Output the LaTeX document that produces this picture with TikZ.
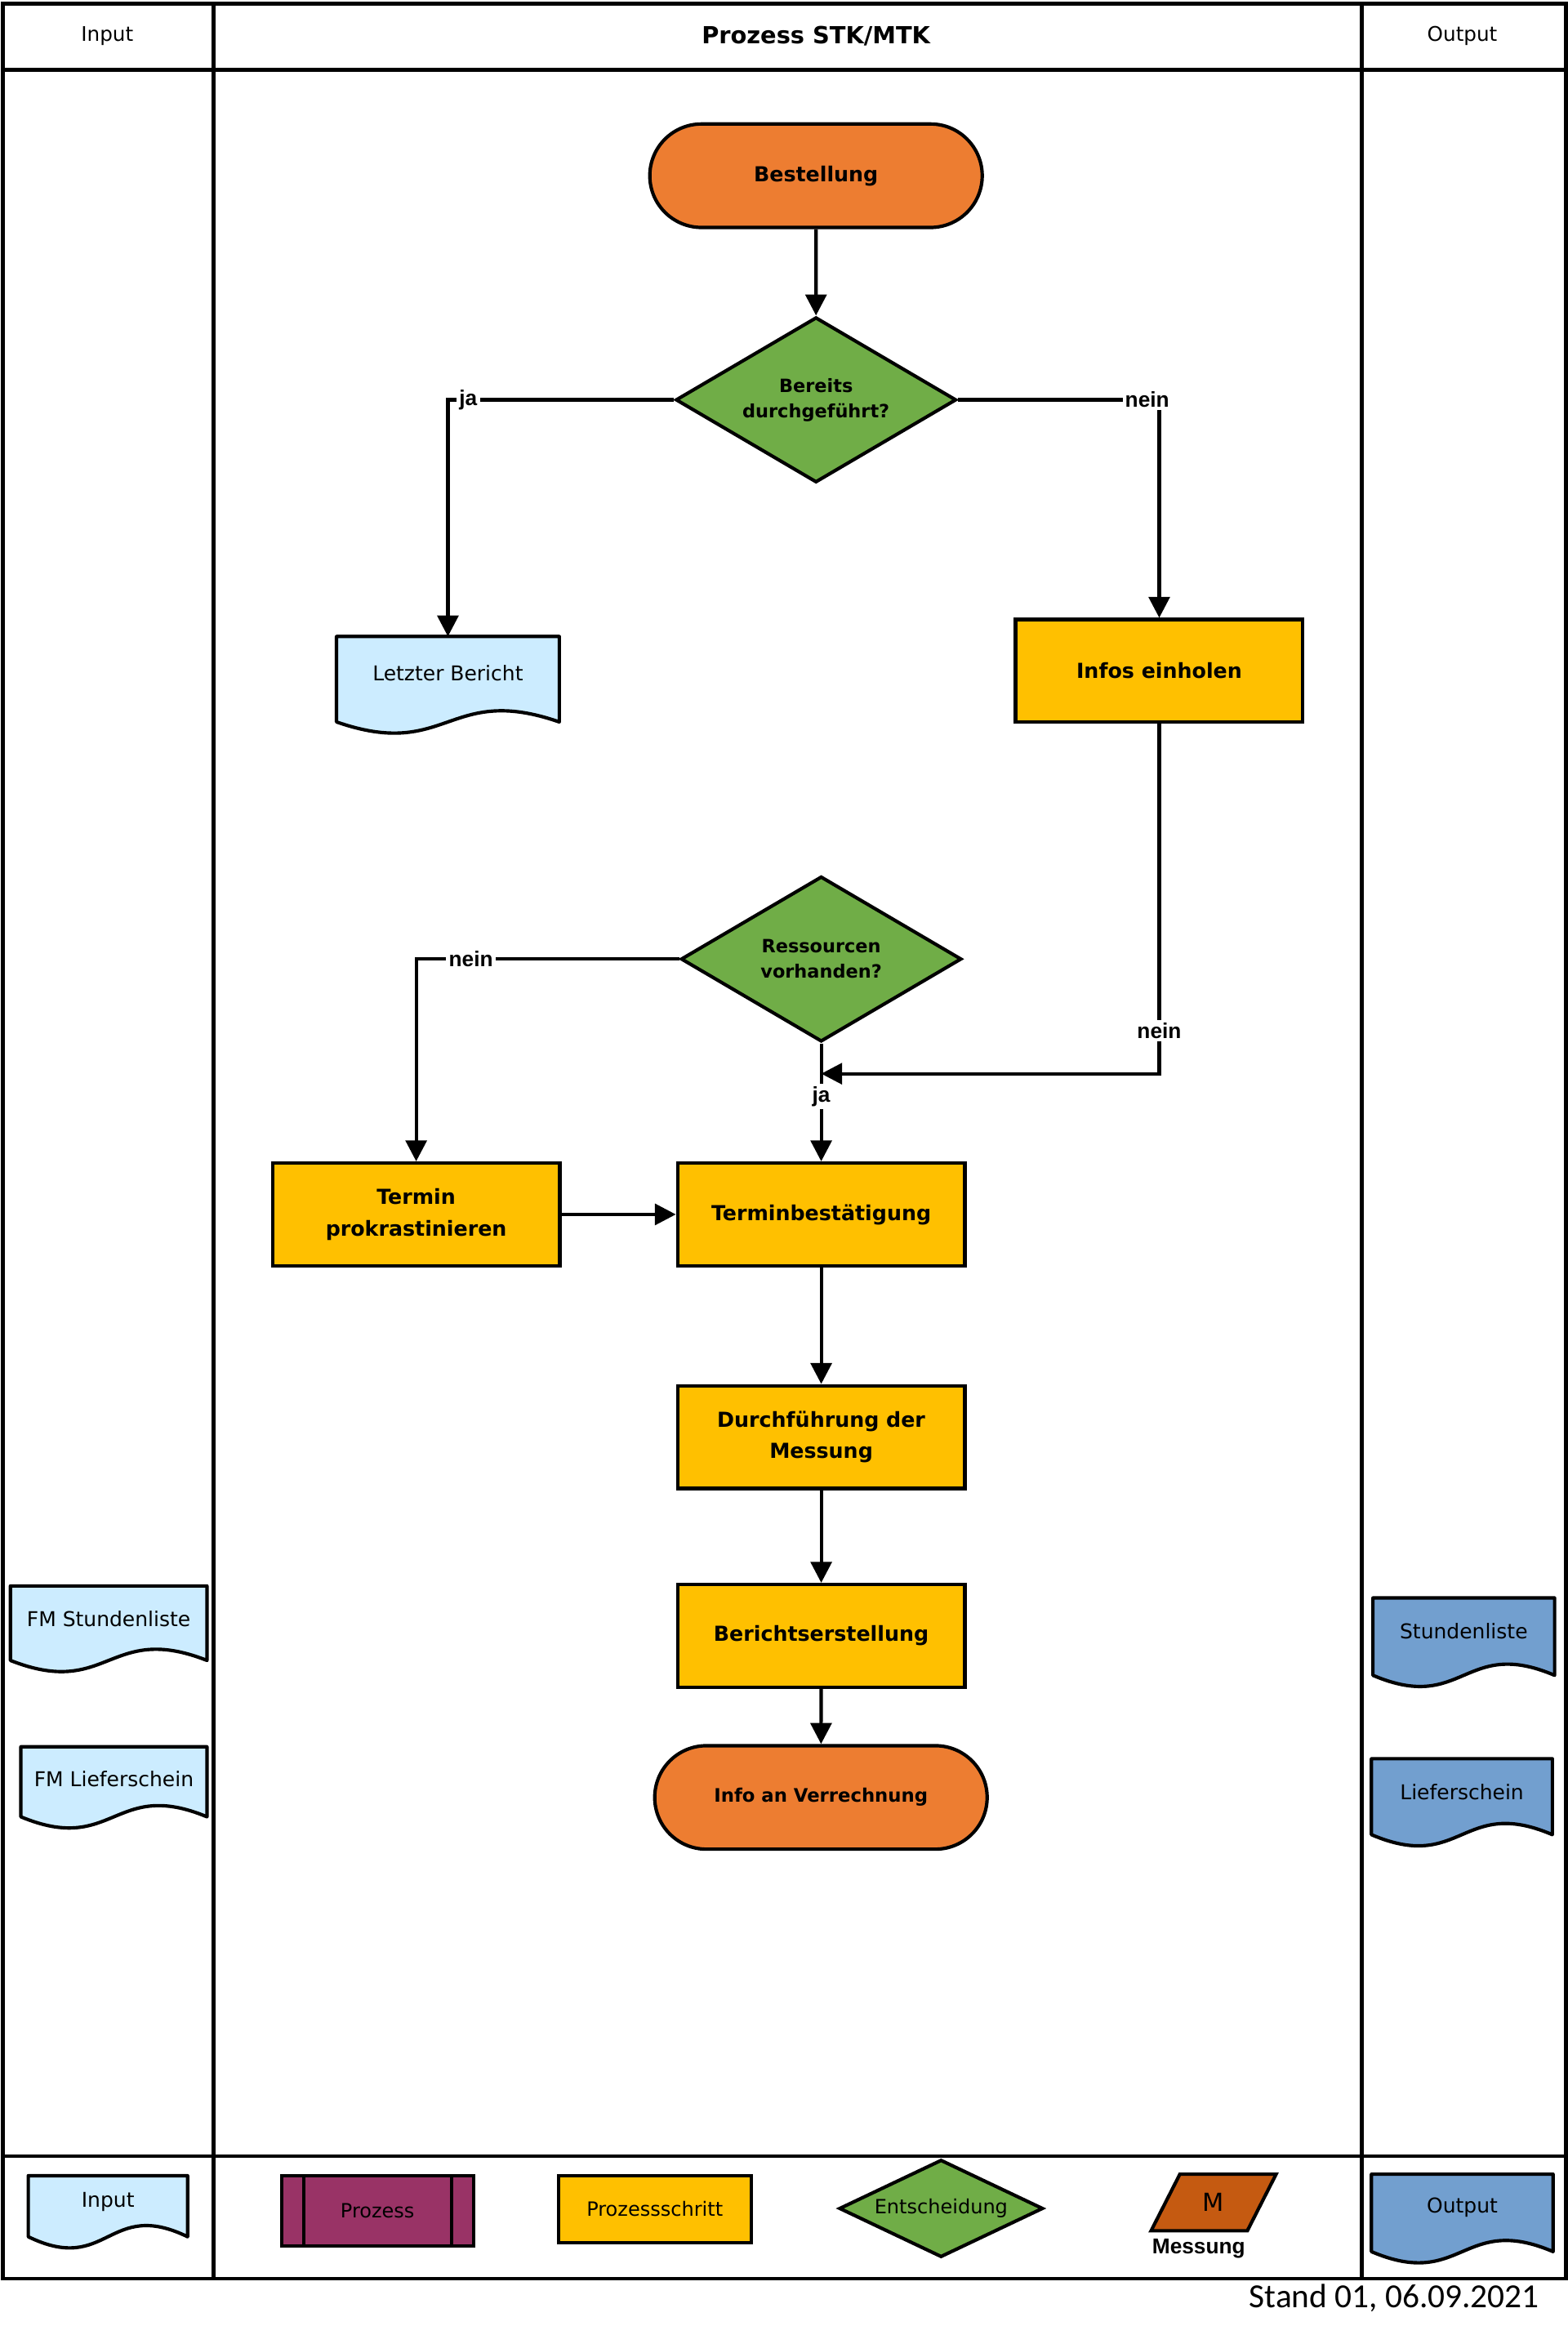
\documentclass[tikz,border=0pt]{standalone}
\usepackage{fontspec}
\setmainfont{DejaVu Sans}
\newfontfamily\arialfont{Liberation Sans}
\newfontfamily\standfont{Carlito}
\usepackage{tikz}
\usetikzlibrary{arrows.meta,shapes.geometric,shapes.misc}

\definecolor{termorange}{HTML}{ED7D31}
\definecolor{rautengruen}{HTML}{70AD47}
\definecolor{schrittgelb}{HTML}{FFC000}
\definecolor{inputblau}{HTML}{CCECFF}
\definecolor{outputblau}{HTML}{729FCF}
\definecolor{prozesslila}{HTML}{993366}
\definecolor{messbraun}{HTML}{C55A11}

\newcommand{\knotenschrift}{\fontsize{7.9}{12}\selectfont\bfseries}
\newcommand{\rautenschrift}{\fontsize{7}{9.7}\selectfont\bfseries}
\newcommand{\dokschrift}{\fontsize{7.8}{9.5}\selectfont}
\newcommand{\legschrift}{\fontsize{7.5}{9}\selectfont}

% #1 name, #2 x links, #3 y oben, #4 x rechts, #5 y ecke unten, #6 farbe, #7 textabstand, #8 text
\newcommand{\dokument}[8]{%
  \filldraw[line width=1.3pt, line join=round, fill=#6] (#2,#3) -- (#4,#3) -- (#4,#5) .. controls ({(#2+#4)/2},{#5-26}) and ({(#2+#4)/2},{#5+26}) .. (#2,#5) -- cycle;
  \node[doktext, minimum width={(#4-#2)*0.02cm}, minimum height={2*#7*0.02cm}, anchor=north] (#1) at ({(#2+#4)/2},#3) {#8};
}

\begin{document}
\begin{tikzpicture}[x=0.02cm, y=-0.02cm, >={Triangle[length=8pt,width=8pt]}, rahmen/.style={line width=1.4pt}, pfeil/.style={->, line width=1.3pt}, start/.style={rounded rectangle, draw, line width=1.3pt, fill=termorange, minimum width=4.7cm, minimum height=1.39cm, font=\knotenschrift}, schritt/.style={rectangle, draw, line width=1.3pt, fill=schrittgelb, minimum width=3.86cm, minimum height=1.38cm, align=center, font=\knotenschrift}, raute/.style={diamond, draw, line width=1.3pt, fill=rautengruen, aspect=1.7, inner sep=0pt, minimum width=3.77cm, minimum height=2.22cm, align=center, font=\rautenschrift}, jn/.style={fill=white, inner sep=1pt, font=\arialfont\fontsize{8.2}{9}\selectfont\bfseries}, doktext/.style={inner sep=0pt, align=center, font=\dokschrift}, kopf/.style={font=\fontsize{7.7}{9}\selectfont}, leg/.style={draw, line width=1.3pt, font=\legschrift}]

\useasboundingbox (0,0) rectangle (1053,1568);

\draw[rahmen] (2,2.5) rectangle (1051.5,1530);
\draw[rahmen] (2,47) -- (1051.5,47);
\draw[rahmen] (2,1448) -- (1051.5,1448);
\draw[rahmen] (143.5,2.5) -- (143.5,1530);
\draw[rahmen] (914.5,2.5) -- (914.5,1530);

\node[kopf] (kin) at (72,24) {Input};
\node[font=\fontsize{9}{11}\selectfont\bfseries] (kproz) at (548,24) {Prozess STK/MTK};
\node[kopf] (kout) at (982,24) {Output};

\node[start] (best) at (548,118) {Bestellung};
\node[raute] (q1) at (548,268.5) {Bereits\\durchgeführt?};
\dokument{letzt}{226}{427.4}{375.6}{484.8}{inputblau}{24}{Letzter Bericht}
\node[schritt] (infos) at (778.5,450.5) {Infos einholen};
\node[raute] (q2) at (551.5,644) {Ressourcen\\vorhanden?};
\coordinate (zus) at (551.5,721);
\node[schritt] (termin) at (279.5,815.5) {Termin\\prokrastinieren};
\node[schritt] (tbest) at (551.5,815.5) {Terminbestätigung};
\node[schritt] (durch) at (551.5,965) {Durchführung der\\Messung};
\node[schritt] (bericht) at (551.5,1098.5) {Berichtserstellung};
\node[start, font=\fontsize{7.1}{9}\selectfont\bfseries] (info) at (551.3,1207) {Info an Verrechnung};

\dokument{fmstd}{7}{1065}{139}{1115}{inputblau}{22}{FM Stundenliste}
\dokument{fmlief}{14}{1173}{139}{1220}{inputblau}{21}{FM Lieferschein}
\dokument{std}{922}{1073}{1044}{1125}{outputblau}{22}{Stundenliste}
\dokument{lief}{921}{1181}{1042.5}{1232}{outputblau}{22}{Lieferschein}

\draw[pfeil] (best) -- (q1);
\draw[pfeil] (q1.west) -| node[jn, pos=0.455] {ja} (letzt.north);
\draw[pfeil] (q1.east) -| node[jn, pos=0.47] {nein} (infos.north);
\draw[pfeil] (infos.south) |- node[jn, pos=0.4385] {nein} (zus);
\draw[pfeil] (q2.west) -| node[jn, pos=0.396] {nein} (termin.north);
\draw[pfeil] (q2.south) -- node[jn, pos=0.448] {ja} (tbest.north);
\draw[pfeil] (termin) -- (tbest);
\draw[pfeil] (tbest) -- (durch);
\draw[pfeil] (durch) -- (bericht);
\draw[pfeil] (bericht) -- (info);

\dokument{legin}{19}{1461}{126}{1502}{inputblau}{17}{Input}
\node[leg, fill=prozesslila, minimum width=2.58cm, minimum height=0.94cm] (proz) at (253.5,1484.5) {Prozess};
\draw[line width=1.3pt] ([xshift=0.32cm]proz.north west) -- ([xshift=0.32cm]proz.south west);
\draw[line width=1.3pt] ([xshift=-0.32cm]proz.north east) -- ([xshift=-0.32cm]proz.south east);
\node[leg, fill=schrittgelb, minimum width=2.59cm, minimum height=0.9cm] (pschritt) at (439.7,1483.5) {Prozessschritt};
\node[leg, diamond, fill=rautengruen, aspect=2.1, inner sep=0pt, minimum width=2.74cm, minimum height=1.31cm] (entsch) at (632,1483) {Entscheidung};
\node[leg, trapezium, trapezium left angle=65, trapezium right angle=115, trapezium stretches=true, fill=messbraun, minimum width=1.68cm, minimum height=0.76cm, font=\fontsize{9.5}{10}\selectfont] (mess) at (815,1479) {M};
\node[jn, fill=none, inner sep=0pt] (messtext) at (805,1510) {Messung};
\dokument{legout}{921}{1460}{1043}{1512}{outputblau}{22}{Output}

\node[anchor=east, inner sep=0pt, font=\standfont\fontsize{12.9}{14}\selectfont] (stand) at (1034,1543) {Stand 01, 06.09.2021};
\end{tikzpicture}
\end{document}
